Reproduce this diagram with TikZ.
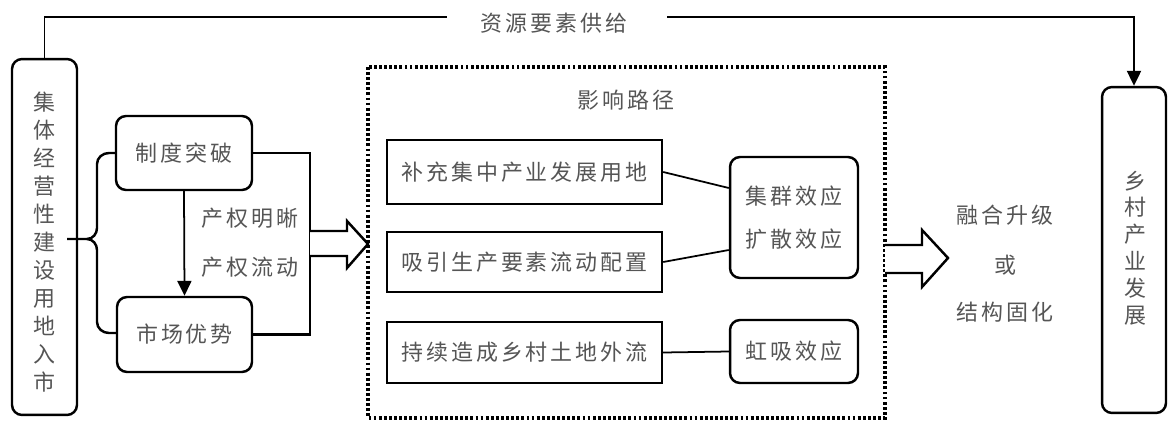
\documentclass[tikz,border=0pt]{standalone}
\usepackage{fontspec}
\newfontfamily\cjk[LetterSpace=13]{Noto Sans CJK SC}
\newfontfamily\cjkv{Noto Sans CJK SC}
\usetikzlibrary{arrows.meta}
\definecolor{txt}{HTML}{555555}
\begin{document}
\begin{tikzpicture}[x=0.02cm,y=-0.02cm,
  every node/.style={font=\cjk\fontsize{12.5pt}{15pt}\selectfont, text=txt, inner sep=0pt},
  rbox/.style={draw=black, line width=1.4pt, rounded corners=0.2cm},
  sbox/.style={draw=black, line width=1.4pt},
  vtext/.style={align=center, font=\cjkv\fontsize{12.5pt}{15.9pt}\selectfont},
  conn/.style={draw=black, line width=1pt},
  thick conn/.style={draw=black, line width=1.4pt},
  dotbox/.style={draw=black, line width=2.1pt, dash pattern=on 1.6pt off 1.3pt},
  hollow/.style={draw=black, line width=1.4pt, fill=white},
  tip/.style={-{Triangle[width=8pt,length=8.5pt]}}]
\useasboundingbox (0,0) rectangle (1173,426);

% left and right tall boxes
\node[rbox, minimum width=1.3cm, minimum height=7.12cm] (L) at (44.5,237) {};
\node[vtext] (Lt) at (44.5,242) {集\\体\\经\\营\\性\\建\\设\\用\\地\\入\\市};
\node[rbox, minimum width=1.28cm, minimum height=6.52cm] (R) at (1134,250) {};
\node[vtext, font=\cjkv\fontsize{12.5pt}{15.3pt}\selectfont] (Rt) at (1135,248) {乡\\村\\产\\业\\发\\展};

% top resource line
\coordinate (t1) at (447,17);
\coordinate (t2) at (667,17);
\node (T) at (554,23) {资源要素供给};
\draw[conn] (L.north) |- (t1);
\draw[conn, tip] (t2) -| (R.north);

% institution / market boxes
\node[rbox, minimum width=2.72cm, minimum height=1.48cm] (A) at (184,153) {制度突破};
\node[rbox, minimum width=2.7cm, minimum height=1.5cm] (B) at (184.5,334.5) {市场优势};
\draw[conn, tip] (A.south) -- (B.north);
\node (Q1) at (250,218) {产权明晰};
\node (Q2) at (250,267) {产权流动};

% brace from left box
\coordinate (b0) at (67,239);
\draw[thick conn] (b0) -- (87,239) to[out=0,in=-90] (97,228) -- (97,164) to[out=90,in=180] (109,153) -- (A.west);
\draw[thick conn] (87,239) to[out=0,in=90] (97,250) -- (97,322) to[out=-90,in=180] (109,333) -- (B.west |- 0,333);

% right connection from A and B
\draw[thick conn] (A.east) -- (310,153) -- (310,334.5) -- (B.east);

% hollow arrow into the dotted box
\draw[hollow] (310,231) -- (347,231) -- (347,221) -- (368,244) -- (347,268) -- (347,256) -- (310,256);

% dotted box
\draw[dotbox] (368,67) rectangle (885,418);
\node (H) at (626,100) {影响路径};

% path boxes
\node[sbox, minimum width=5.5cm, minimum height=1.28cm] (P1) at (524.5,172) {补充集中产业发展用地};
\node[sbox, minimum width=5.5cm, minimum height=1.2cm] (P2) at (524.5,262) {吸引生产要素流动配置};
\node[sbox, minimum width=5.5cm, minimum height=1.22cm] (P3) at (524.5,352.5) {持续造成乡村土地外流};

% effect boxes
\node[rbox, align=center, font=\cjk\fontsize{12.5pt}{24.4pt}\selectfont, minimum width=2.56cm, minimum height=2.42cm] (E1) at (794,217.5) {集群效应\\扩散效应};
\node[rbox, minimum width=2.56cm, minimum height=1.26cm] (E2) at (794,351.5) {虹吸效应};

\draw[conn] (P1.east) -- (E1.west |- 0,188);
\draw[conn] (P2.east) -- (E1.west |- 0,250);
\draw[conn] (P3.east) -- (E2.west);

% hollow arrow out of the dotted box
\draw[hollow] (885,245) -- (922,245) -- (922,230) -- (948,258) -- (922,287) -- (922,273) -- (885,273);

% outcome text
\node (O1) at (1005,215) {融合升级};
\node (O2) at (1005,265) {或};
\node (O3) at (1005,312) {结构固化};
\end{tikzpicture}
\end{document}
